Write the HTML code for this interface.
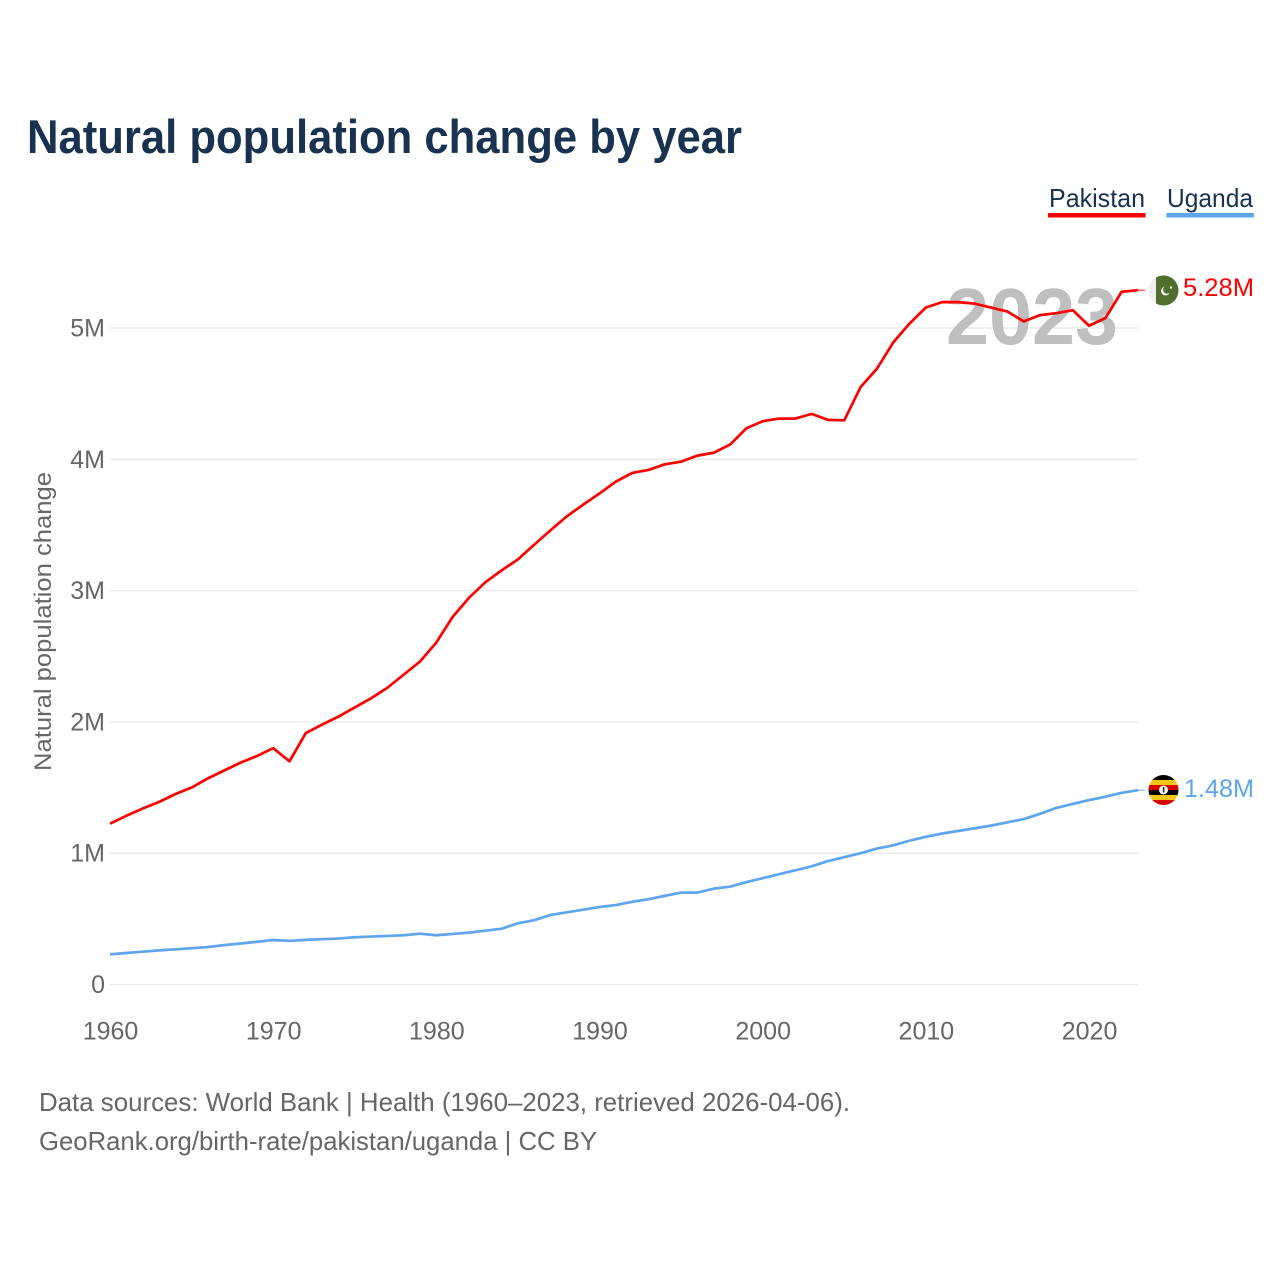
<!DOCTYPE html>
<html lang="en">
<head>
<meta charset="utf-8">
<title>Natural population change by year</title>
<style>
html,body{margin:0;padding:0;background:#fff}
svg{display:block;font-family:"Liberation Sans",sans-serif}
</style>
</head>
<body>
<svg id="chart" width="1280" height="1280" viewBox="0 0 1280 1280" xmlns="http://www.w3.org/2000/svg">
  <rect x="0" y="0" width="1280" height="1280" fill="#fff"/>
  <text x="27" y="153" font-size="47" font-weight="700" fill="#18324f" textLength="715" lengthAdjust="spacingAndGlyphs">Natural population change by year</text>

  <g>
    <text x="1049" y="207" font-size="26" fill="#18324f" textLength="96" lengthAdjust="spacingAndGlyphs">Pakistan</text>
    <rect x="1048" y="213" width="97.500" height="4.500" fill="#ff0000"/>
  </g>
  <g>
    <text x="1167" y="207" font-size="26" fill="#18324f" textLength="86" lengthAdjust="spacingAndGlyphs">Uganda</text>
    <rect x="1166.300" y="213" width="87.500" height="4.500" fill="#5fa5ee"/>
  </g>

  <g id="grid"></g>
  <text x="946" y="344" font-size="80" font-weight="700" fill="#bfbfbf" textLength="172" lengthAdjust="spacingAndGlyphs">2023</text>
  <g id="y-ticks"></g>
  <g id="x-ticks"></g>
  <text transform="translate(51 771) rotate(-90)" font-size="24" fill="#666" textLength="299" lengthAdjust="spacingAndGlyphs">Natural population change</text>
  <g id="series"></g>

  <g>
    <clipPath id="clip-pk"><circle cx="1163.500" cy="290.500" r="15"/></clipPath>
    <g clip-path="url(#clip-pk)">
      <rect x="1148" y="275" width="8" height="31" fill="#eeeeee"/>
      <rect x="1156" y="275" width="24" height="31" fill="#4f6f2d"/>
      <circle cx="1165.500" cy="291" r="4.500" fill="#f4f4f4"/>
      <circle cx="1167" cy="289.800" r="3.900" fill="#4f6f2d"/>
      <circle cx="1171" cy="287.500" r="1.200" fill="#f4f4f4"/>
    </g>
  </g>
  <g>
    <clipPath id="clip-ug"><circle cx="1163.500" cy="790" r="15"/></clipPath>
    <g clip-path="url(#clip-ug)">
      <rect x="1148" y="775" width="31" height="5" fill="#000"/>
      <rect x="1148" y="780" width="31" height="5" fill="#f5c518"/>
      <rect x="1148" y="785" width="31" height="5" fill="#d90000"/>
      <rect x="1148" y="790" width="31" height="5" fill="#000"/>
      <rect x="1148" y="795" width="31" height="5" fill="#f5c518"/>
      <rect x="1148" y="800" width="31" height="5" fill="#d90000"/>
      <circle cx="1163.500" cy="790" r="4.500" fill="#fff"/>
      <rect x="1162.800" y="787" width="1.600" height="5.500" fill="#222"/>
    </g>
  </g>

  <text x="1183" y="296" font-size="25" fill="#ff0000" textLength="71" lengthAdjust="spacingAndGlyphs">5.28M</text>
  <text x="1184" y="797" font-size="25" fill="#5fa5ee" textLength="70" lengthAdjust="spacingAndGlyphs">1.48M</text>

  <text x="39" y="1111" font-size="26" fill="#666" textLength="811" lengthAdjust="spacingAndGlyphs">Data sources: World Bank | Health (1960–2023, retrieved 2026-04-06).</text>
  <text x="39" y="1150" font-size="26" fill="#666" textLength="558" lengthAdjust="spacingAndGlyphs">GeoRank.org/birth-rate/pakistan/uganda | CC BY</text>
</svg>
<script>
const startYear = 1960;
const xTickYears = [1960, 1970, 1980, 1990, 2000, 2010, 2020];
const yTickValues = [0, 1, 2, 3, 4, 5];
const yTickLabels = ['0', '1M', '2M', '3M', '4M', '5M'];
const pakistanValues = [1.225, 1.285, 1.34, 1.39, 1.45, 1.50, 1.57, 1.63, 1.69, 1.74,
  1.80, 1.70, 1.915, 1.98, 2.04, 2.11, 2.18, 2.26, 2.36, 2.46,
  2.605, 2.80, 2.945, 3.063, 3.154, 3.238, 3.35, 3.46, 3.566, 3.655,
  3.74, 3.83, 3.896, 3.919, 3.962, 3.982, 4.028, 4.05, 4.112, 4.236,
  4.29, 4.31, 4.31, 4.346, 4.30, 4.297, 4.55, 4.69, 4.89, 5.034,
  5.156, 5.197, 5.197, 5.185, 5.156, 5.125, 5.05, 5.098, 5.113, 5.136,
  5.017, 5.075, 5.276, 5.288];
const ugandaValues = [0.23, 0.24, 0.25, 0.26, 0.268, 0.276, 0.285, 0.30, 0.312, 0.325,
  0.339, 0.332, 0.34, 0.345, 0.35, 0.36, 0.365, 0.37, 0.375, 0.387,
  0.375, 0.385, 0.395, 0.41, 0.425, 0.466, 0.49, 0.53, 0.55, 0.57,
  0.59, 0.605, 0.63, 0.65, 0.675, 0.70, 0.70, 0.73, 0.745, 0.78,
  0.81, 0.84, 0.87, 0.90, 0.94, 0.97, 1.0, 1.035, 1.06, 1.095,
  1.125, 1.15, 1.17, 1.19, 1.21, 1.235, 1.26, 1.30, 1.345, 1.375,
  1.405, 1.43, 1.46, 1.48];

const NS = 'http://www.w3.org/2000/svg';
const plot = {left: 110, right: 1138, bottom: 984.5, top: 328};
const yearSpan = 63;
const xScale = (year) => plot.left + (year - startYear) * (plot.right - plot.left) / yearSpan;
const yScale = (v) => plot.bottom - v * (plot.bottom - plot.top) / 5;

const grid = document.getElementById('grid');
const yTicks = document.getElementById('y-ticks');
const xTicks = document.getElementById('x-ticks');
const series = document.getElementById('series');

yTickValues.forEach(function (v, i) {
  const line = document.createElementNS(NS, 'line');
  
  
  line.setAttribute('x1', plot.left);
  line.setAttribute('x2', plot.right);
  line.setAttribute('y1', yScale(v));
  line.setAttribute('y2', yScale(v));
  line.setAttribute('stroke', '#e8e8e8');
  line.setAttribute('stroke-width', '1.3');
  grid.appendChild(line);

  const label = document.createElementNS(NS, 'text');
  
  
  label.setAttribute('x', 105);
  label.setAttribute('y', yScale(v) + 8.500);
  label.setAttribute('text-anchor', 'end');
  label.setAttribute('font-size', '25');
  label.setAttribute('fill', '#666');
  label.textContent = yTickLabels[i];
  yTicks.appendChild(label);
});

xTickYears.forEach(function (year) {
  const label = document.createElementNS(NS, 'text');
  
  
  label.setAttribute('x', xScale(year) + 0.500);
  label.setAttribute('y', 1039.500);
  label.setAttribute('text-anchor', 'middle');
  label.setAttribute('font-size', '25');
  label.setAttribute('fill', '#666');
  label.textContent = String(year);
  xTicks.appendChild(label);
});

function drawSeries(values, color, lineName, connectorName) {
  const path = document.createElementNS(NS, 'path');
  
  
  let d = '';
  values.forEach(function (v, i) {
    d += (i ? 'L' : 'M') + xScale(startYear + i).toFixed(2) + ' ' + yScale(v).toFixed(2);
  });
  path.setAttribute('d', d);
  path.setAttribute('fill', 'none');
  path.setAttribute('stroke', color);
  path.setAttribute('stroke-width', '2.700');
  path.setAttribute('stroke-linejoin', 'round');
  series.appendChild(path);

  const last = values[values.length - 1];
  const connector = document.createElementNS(NS, 'line');
  
  
  connector.setAttribute('x1', plot.right);
  connector.setAttribute('x2', plot.right + 7);
  connector.setAttribute('y1', yScale(last));
  connector.setAttribute('y2', yScale(last));
  connector.setAttribute('stroke', color);
  connector.setAttribute('stroke-width', '1.300');
  connector.setAttribute('stroke-opacity', '0.700');
  series.appendChild(connector);
}

drawSeries(pakistanValues, '#ff0000', 'line-pakistan', 'connector-pakistan');
drawSeries(ugandaValues, '#5fa5ee', 'line-uganda', 'connector-uganda');
</script>
</body>
</html>
